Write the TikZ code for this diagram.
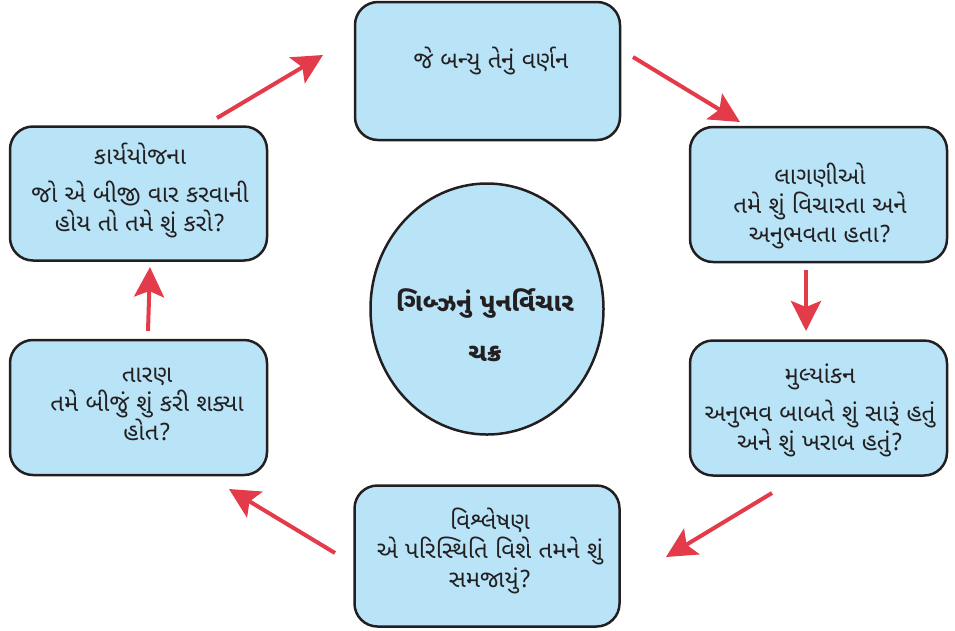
\documentclass[tikz,border=0pt]{standalone}
\usepackage{fontspec}
\newfontfamily\guj[Script=Gujarati]{Noto Sans Gujarati UI}
\usetikzlibrary{arrows.meta,shapes.geometric}
\definecolor{boxfill}{RGB}{185,228,248}
\definecolor{boxline}{RGB}{35,31,32}
\definecolor{arrred}{RGB}{228,59,74}
\tikzset{
  box/.style={draw=boxline, fill=boxfill, line width=2.5pt, rounded corners=23pt, inner sep=0pt},
  txt/.style={text=boxline, font=\guj\fontsize{24}{29}\selectfont, align=center, inner sep=0pt},
  ctxt/.style={text=boxline, font=\guj\bfseries\fontsize{25.5}{50}\selectfont, align=center, inner sep=0pt},
  arr/.style={draw=arrred, line width=4pt, -{Stealth[length=30pt,width=30pt,inset=6pt]}},
}
\begin{document}
\begin{tikzpicture}[x=1pt,y=-1pt]
\useasboundingbox (0,0) rectangle (955,630);
% boxes
\node[box, minimum width=265pt, minimum height=138pt] (b1) at (487.5,71) {};
\node[box, minimum width=257pt, minimum height=135pt] (b2) at (818.5,194.5) {};
\node[box, minimum width=257pt, minimum height=135pt] (b3) at (818.5,408) {};
\node[box, minimum width=265pt, minimum height=141pt] (b4) at (487,556) {};
\node[box, minimum width=257pt, minimum height=135pt] (b5) at (138.5,407.5) {};
\node[box, minimum width=257pt, minimum height=134pt] (b6) at (138.5,193.5) {};
\node[ellipse, draw=boxline, fill=boxfill, line width=2.5pt, minimum width=233pt, minimum height=251pt, inner sep=0pt] (c) at (487,309) {};
% texts
\node[txt] (t1) at (491,61) {જે બન્યુ તેનું વર્ણન};
\node[txt] (t2) at (820,206) {લાગણીઓ\\તમે શું વિચારતા અને\\અનુભવતા હતા?};
\node[txt] (t3) at (820,410) {મુલ્યાંકન\\[9pt]અનુભવ બાબતે શું સારૂં હતું\\અને શું ખરાબ હતું?};
\node[txt] (t4) at (490,551) {વિશ્લેષણ\\એ પરિસ્થિતિ વિશે તમને શું\\સમજાયું?};
\node[txt] (t5) at (147,404) {તારણ\\તમે બીજું શું કરી શક્યા\\હોત?};
\node[txt] (t6) at (140,190) {કાર્યયોજના\\[9pt]જો એ બીજી વાર કરવાની\\હોય તો તમે શું કરો?};
\node[ctxt] (tc) at (485,325) {ગિબ્ઝનું પુનર્વિચાર\\ચક્ર};
% arrow end points
\coordinate (a1s) at (217,118); \coordinate (a1e) at (323,55);
\coordinate (a2s) at (633,57);  \coordinate (a2e) at (740,122);
\coordinate (a3s) at (806,270); \coordinate (a3e) at (806,331);
\coordinate (a4s) at (772,493); \coordinate (a4e) at (666,557);
\coordinate (a5s) at (335,553); \coordinate (a5e) at (229,489);
\coordinate (a6s) at (148,331); \coordinate (a6e) at (150,267);
\draw[arr] (a1s) -- (a1e);
\draw[arr] (a2s) -- (a2e);
\draw[arr] (a3s) -- (a3e);
\draw[arr] (a4s) -- (a4e);
\draw[arr] (a5s) -- (a5e);
\draw[arr] (a6s) -- (a6e);
\end{tikzpicture}
\end{document}
